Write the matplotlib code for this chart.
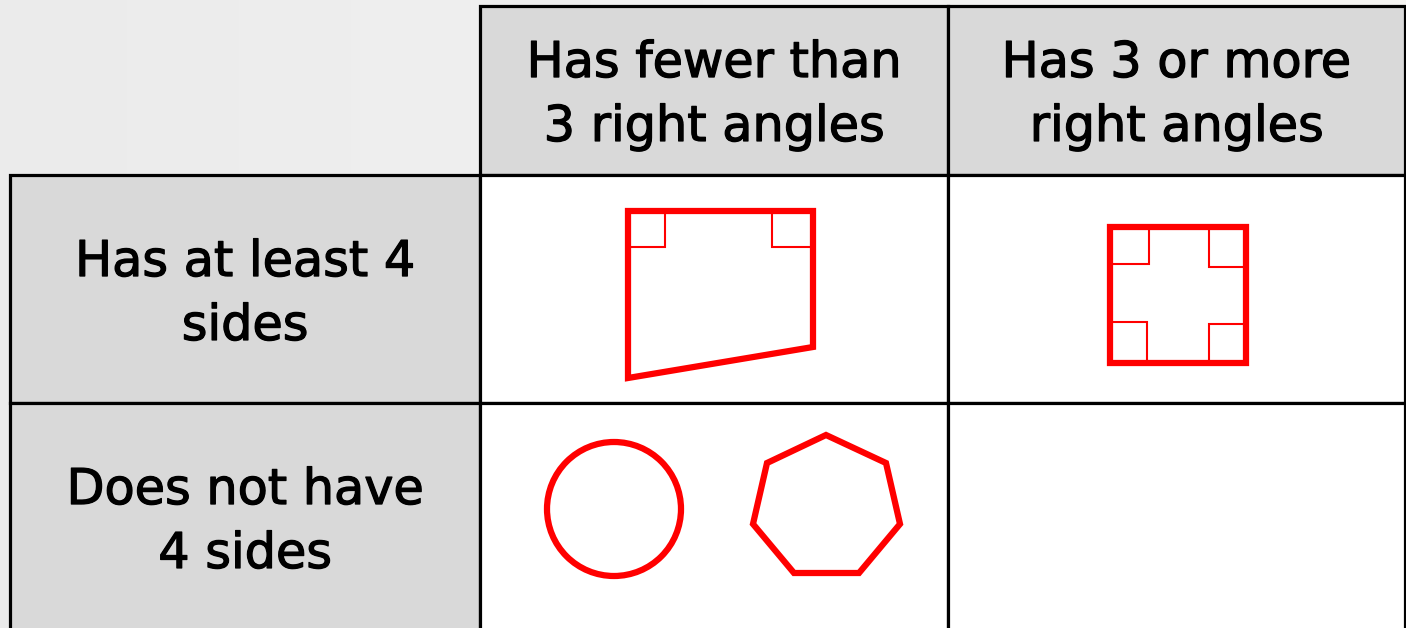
import numpy as np
import matplotlib.pyplot as plt
import matplotlib.patheffects as pe
from matplotlib.patches import Rectangle, Polygon, Circle

# Carroll diagram content
col_labels = ["Has fewer than\n3 right angles", "Has 3 or more\nright angles"]
row_labels = ["Has at least 4\nsides", "Does not have\n4 sides"]
label_y = [294, 522]

# shapes (pixel coords of the picture)
quad = [(628, 211), (813, 211), (813, 347), (628, 378)]
quad_marks = [(628, 211, 37, 36), (772, 211, 41, 36)]
square = [(1110, 227), (1246, 227), (1246, 363), (1110, 363)]
square_marks = [(1110, 227, 39, 37), (1209, 227, 37, 40), (1110, 322, 37, 41), (1209, 324, 37, 39)]
circle_c = (614, 509)
circle_r = 67
hepta = [(826, 435), (886, 463), (900, 524), (859, 573), (794, 573), (753, 524), (767, 463)]

col_x = [480, 948, 1405]
row_y = [6, 175, 403, 640]
lab_x = [10, 480]

W, H = 1406, 628
fig = plt.figure(figsize=(W / 100, H / 100), dpi=100)
ax = fig.add_axes([0, 0, 1, 1])
ax.set_xlim(0, W)
ax.set_ylim(H, 0)
ax.axis('off')

# soft grey background
grad = np.linspace(0, 1, 200)[None, :]
ax.imshow(grad, extent=[0, W, H, 0], cmap=plt.matplotlib.colors.LinearSegmentedColormap.from_list(
    'bg', ['#ebebeb', '#f1f1f1', '#f6f5f2']), aspect='auto', zorder=0)

edge = dict(edgecolor='black', linewidth=2.3)
hdr = '#d9d9d9'
txt = dict(ha='center', va='center', fontsize=35.5, linespacing=1.42, color='black', zorder=3,
           path_effects=[pe.withStroke(linewidth=0.9, foreground='black')])

# header cells
for i, lab in enumerate(col_labels):
    ax.add_patch(Rectangle((col_x[i], row_y[0]), col_x[i + 1] - col_x[i], row_y[1] - row_y[0],
                           facecolor=hdr, zorder=1, **edge))
    ax.text((col_x[i] + col_x[i + 1]) / 2, 95, lab, **txt)

# row labels + white cells
for j, lab in enumerate(row_labels):
    y0, y1 = row_y[j + 1], row_y[j + 2]
    ax.add_patch(Rectangle((lab_x[0], y0), lab_x[1] - lab_x[0], y1 - y0, facecolor=hdr, zorder=1, **edge))
    ax.text((lab_x[0] + lab_x[1]) / 2, label_y[j], lab, **txt)
    for i in range(2):
        ax.add_patch(Rectangle((col_x[i], y0), col_x[i + 1] - col_x[i], y1 - y0,
                               facecolor='white', zorder=1, **edge))

red = '#ff0000'
ax.add_patch(Polygon(quad, closed=True, fill=False, edgecolor=red, linewidth=4.5, joinstyle='miter', zorder=4))
for x, y, w, h in quad_marks:
    ax.add_patch(Rectangle((x, y), w, h, fill=False, edgecolor=red, linewidth=1.5, zorder=4))
ax.add_patch(Polygon(square, closed=True, fill=False, edgecolor=red, linewidth=4.5, joinstyle='miter', zorder=4))
for x, y, w, h in square_marks:
    ax.add_patch(Rectangle((x, y), w, h, fill=False, edgecolor=red, linewidth=1.5, zorder=4))
ax.add_patch(Circle(circle_c, circle_r, fill=False, edgecolor=red, linewidth=4.5, zorder=4))
ax.add_patch(Polygon(hepta, closed=True, fill=False, edgecolor=red, linewidth=4.5, joinstyle='miter', zorder=4))

fig.savefig('out.png', dpi=100)
